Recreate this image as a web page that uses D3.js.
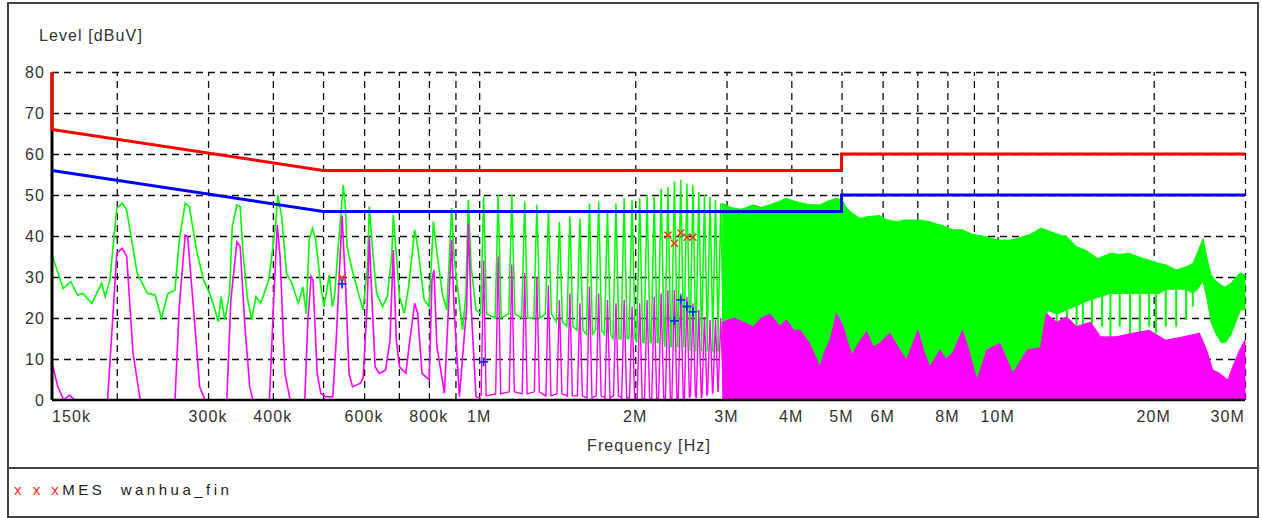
<!DOCTYPE html>
<html>
<head>
<meta charset="utf-8">
<script src="https://cdn.jsdelivr.net/npm/d3@7"></script>
<style>
  body { margin: 0; background: #fff; }
  text { font-family: 'Liberation Sans', Arial, sans-serif; }
</style>
</head>
<body>
<script>
// peak scan (green), 150 kHz .. 1 MHz, [kHz, dBuV]
const peakLow = [[150,35.4],[157.6,27.2],[163,28.9],[168,25.6],[172,26],[179,23.6],[187,28.5],[190,25.2],[194,29.3],[200,46.8],[205,48],[209,46.3],[219,30.9],[229,26],[237,25.6],[244,19.9],[251,26],[259,26.8],[264,39],[271,48],[276,47.2],[285,36.6],[294,29.3],[302,26],[308,22.8],[314,19.1],[318,25.2],[323,19.5],[330,26],[334,42.3],[341,47.6],[346,47.2],[350,36.6],[357,25.2],[364,19.5],[371,25.2],[379,23.6],[393,29.3],[405,43],[409,50],[416,44.7],[425,30.9],[435,28.5],[448,23.6],[457,27.6],[464,21.1],[470,39],[477,41.9],[484,39],[495,27.6],[502,22.8],[514,30.5],[521,22.8],[526,25.2],[536,39],[547,52.4],[552,47.2],[556,37.4],[571,30.9],[585,26],[597,22],[609,32.5],[614,47.2],[623,36.6],[634,26],[651,22.8],[665,25.2],[678,35],[683,45.1],[691,36.6],[702,25.2],[717,21.1],[731,27.6],[751,41.5],[761,37.4],[783,24.4],[801,22.8],[816,43.5],[829,35.8],[849,26],[866,22],[885,46.8],[894,35],[929,17.1],[943,26],[953,48.8],[965,32.5],[986,22],[1007,21.1]]

// average scan (magenta), 150 kHz .. 1 MHz, [kHz, dBuV]
const avgLow = [[150,9],[154,3.2],[158,0],[162,1.2],[166,0],[192,0],[196,17.9],[200,35.8],[205,37],[209,35],[215,11.4],[222,0],[259,0],[264,22.8],[271,40.2],[274,39.8],[281,22.8],[289,3.2],[296,0],[326,0],[332,24.4],[341,38.6],[346,37.4],[353,18.7],[361,3.2],[366,0],[394,0],[401,22.8],[408,42.7],[413,35],[422,6.5],[432,0],[461,0],[467,18.7],[474,30.1],[478,29.3],[487,6.5],[495,1.6],[505,0.8],[522,0.8],[530,14.6],[544,45],[553,26.8],[561,6.5],[570,3.2],[590,4.1],[597,5.3],[608,22.8],[614,39.8],[620,26.8],[630,8.1],[642,6.5],[660,7.3],[673,14.6],[683,36.6],[692,14.6],[702,8.1],[722,6.5],[735,14.6],[751,23.6],[761,21.1],[776,6.5],[801,4.9],[811,29.3],[818,31.7],[829,13],[857,1.6],[879,30.9],[885,39],[894,22.8],[916,0.8],[946,22.8],[953,43],[965,22.8],[986,0.8],[1005,0.5]]

// harmonic lines 1 .. 3 MHz
const harmKHz = [1020,1088,1156,1224,1292,1360,1428,1496,1564,1632,1700,1768,1836,1904,1972,2040,2108,2176,2244,2312,2380,2448,2516,2584,2652,2720,2788,2856,2924]
const harmPeak = [49.6,50,50,48.4,47.6,45.9,43.5,44.7,44.3,48,48.4,46.3,48,49.2,48.8,49.2,50,49.6,51.6,52,53.3,53.7,52.8,52.4,50.8,50,49.6,48.8,48]
const harmPeakFloor = [21,20,21,20,20,21,19,18,17,16,17,16,15,15,15,14,14,14,14,13,13,13,13,12,12,12,12,12,12]
const harmAvg = [34,35,33,31,30,28,24.4,26,23.6,27.6,26,24.4,23.6,24.4,22.8,23.6,24.4,25.2,26,26.8,26.8,26,25.2,23.6,22,20.3,19.5,19.5,20]
const harmAvgFloor = [1,1.5,2,1.5,2,1,1.5,1,1,0.5,1,0.5,1,0.5,0.5,0,0.5,0,0.5,0,0.5,0,0.5,1,0.5,1,1.5,2,2.5]

// dense part of the peak scan: [MHz, upper, lower]
const peakDense = [[2.95,48,12],[3.05,47,13],[3.2,46.5,14],[3.38,47.6,14],[3.5,47,15],[3.64,47.6,15],[3.8,48.5,15],[3.91,49.2,16],[4.05,48.5,14],[4.21,48,13],[4.35,47.6,11],[4.54,47.6,7],[4.7,48.5,12],[4.89,49.2,18],[5.0,48.8,16],[5.12,46.8,11],[5.25,45.5,9],[5.43,44.3,12],[5.6,44.7,14],[5.92,45,11],[6.1,44,12],[6.38,43.5,10],[6.6,43.9,9],[6.77,43.9,9],[7.07,43.9,12],[7.4,43.5,7],[7.6,43,9],[7.86,42.5,9],[8.2,41.5,9],[8.56,41.5,12],[8.9,40.5,8],[9.12,40.2,4.9],[9.5,39.8,9],[10.0,39,10],[10.57,39,6],[11.0,39.5,8],[11.6,40.5,10],[12.1,41.9,11],[12.4,41.5,22],[13.0,40.5,21],[13.6,39.8,22],[14.2,37.4,23],[14.8,36.5,24],[15.6,34.5,25],[16.5,35.8,26],[17.2,35.5,26],[17.9,35.8,26],[18.8,34.8,26],[19.6,34.1,26],[20.5,33.3,26],[21.1,33,27],[22.1,31.7,27],[23.1,32.5,27],[23.8,33.3,26],[24.3,36,27],[24.9,39.4,29],[25.4,34,24],[25.8,30.5,19],[26.4,29,16],[27.0,28,14],[27.5,27.6,14],[28.2,28.5,16],[28.8,30,19],[29.4,31,22],[30,30.5,22]]

// downward spikes of the peak scan above 12 MHz: [MHz, bottom, top]
const peakDips = [[12.43,14.6,24],[13.0,14.6,24],[13.6,19.5,25],[14.2,17.9,25],[14.6,13,25],[15.2,16.3,26],[15.9,17.9,26],[16.5,14.6,26],[17.2,17.9,26],[18.0,13,26],[18.8,14.6,26],[19.6,17.9,26],[20.2,16.3,26],[21.1,17.9,27],[22.1,17.9,27],[23.1,19.5,27],[23.8,22.8,27]]

// dense part of the average scan: [MHz, upper]
const avgDense = [[2.95,19],[3.1,20],[3.38,17.9],[3.5,20],[3.64,21],[3.8,18],[3.91,19.5],[4.05,17],[4.16,17],[4.34,13.8],[4.54,8.1],[4.64,12],[4.75,14.6],[4.89,21.1],[5.03,18],[5.23,11],[5.4,14],[5.59,16.7],[5.75,13],[5.92,13.8],[6.19,16.3],[6.48,12.2],[6.67,9.8],[7.02,17],[7.2,12],[7.4,8.1],[7.74,12.2],[7.95,10],[8.19,11.5],[8.56,17],[8.8,12],[9.12,4.9],[9.53,12.2],[10.1,13.8],[10.7,6.5],[11.4,12.2],[12.1,12.8],[12.4,21.1],[13.0,19],[13.6,20.3],[14.2,17.9],[15.1,19],[15.8,15.4],[16.9,15.4],[18.2,16.3],[19.6,17],[21.1,14.6],[22.8,15.4],[24.5,16.3],[25.3,12.2],[26.0,7.3],[26.8,6.5],[27.8,4.9],[28.4,8.1],[29.3,12.2],[30,14.6]]

// limits [kHz, dBuV]
const qpLimit = [[150,80],[150,66],[500,56],[5000,56],[5000,60],[30000,60]]
const avLimit = [[150,56],[500,46],[5000,46],[5000,50],[30000,50]]

// final measurements [kHz, dBuV]
const qpMarks = [[544,29.8],[2312,40.2],[2380,38.2],[2448,40.8],[2516,39.7],[2584,39.7]]
const avMarks = [[544,28.3],[1020,9.3],[2380,19.3],[2448,24.4],[2516,22.8],[2584,21.5]]

const gridFreqs = [200e3,300e3,400e3,500e3,600e3,700e3,800e3,900e3,1e6,2e6,3e6,4e6,5e6,6e6,7e6,8e6,9e6,10e6,20e6,30e6]
const tickFreqs = [150e3,300e3,400e3,600e3,800e3,1e6,2e6,3e6,4e6,5e6,6e6,8e6,10e6,20e6,30e6]
const tickLabels = ['150k','300k','400k','600k','800k','1M','2M','3M','4M','5M','6M','8M','10M','20M','30M']
const levelTicks = [0,10,20,30,40,50,60,70,80]

const width = 1262, height = 518
const plotLeft = 52, plotRight = 1245, plotTop = 72, plotBottom = 400

const x = d3.scaleLog().domain([150e3, 30e6]).range([plotLeft, plotRight])
const y = d3.scaleLinear().domain([0, 80]).range([plotBottom, plotTop])

const svg = d3.select('body').append('svg')
  .attr('width', width)
  .attr('height', height)

// frame
svg.append('rect')
  .attr('x', 8).attr('y', 3)
  .attr('width', 1250).attr('height', 514)
  .attr('fill', 'none').attr('stroke', '#444').attr('stroke-width', 2)
svg.append('line')
  .attr('x1', 8).attr('x2', 1258).attr('y1', 468).attr('y2', 468)
  .attr('stroke', '#444').attr('stroke-width', 2)

// grid
const gridStyle = g => g.call(s => s.select('.domain').remove())
  .selectAll('line')
  .attr('stroke', '#111')
  .attr('stroke-width', 1.3)
  .attr('stroke-dasharray', '7,5')

svg.append('g')
  .attr('transform', `translate(0,${plotBottom})`)
  .call(d3.axisBottom(x).tickValues(gridFreqs).tickSize(-(plotBottom - plotTop)).tickFormat(''))
  .call(gridStyle)

svg.append('g')
  .attr('transform', `translate(${plotLeft},0)`)
  .call(d3.axisLeft(y).tickValues(levelTicks.slice(1)).tickSize(-(plotRight - plotLeft)).tickFormat(''))
  .call(gridStyle)

const line = d3.line().x(d => x(d[0] * 1e3)).y(d => y(d[1]))
const pxLine = d3.line().x(d => d[0]).y(d => y(d[1]))

// each harmonic drawn as a narrow peak rising from its floor
function spikes(freqs, peaks, floors, w) {
  const pts = []
  freqs.forEach((f, i) => {
    const px = x(f * 1e3)
    pts.push([px - w, floors[i]], [px, peaks[i]], [px + w, floors[i]])
  })
  return pxLine(pts)
}

const green = '#00ff00', magenta = '#ff00ff'

// peak scan
const pk = svg.append('g')
pk.append('path').attr('d', line(peakLow))
  .attr('fill', 'none').attr('stroke', green).attr('stroke-width', 1.6)
pk.append('path').attr('d', spikes(harmKHz, harmPeak, harmPeakFloor, 3))
  .attr('fill', 'none').attr('stroke', green).attr('stroke-width', 1.5)
pk.append('path').datum(peakDense)
  .attr('d', d3.area().x(d => x(d[0] * 1e6)).y0(d => y(d[2])).y1(d => y(d[1])))
  .attr('fill', green).attr('stroke', green).attr('stroke-width', 1)
pk.selectAll('line').data(peakDips).join('line')
  .attr('x1', d => x(d[0] * 1e6)).attr('x2', d => x(d[0] * 1e6))
  .attr('y1', d => y(d[1])).attr('y2', d => y(d[2]))
  .attr('stroke', green).attr('stroke-width', 2)

// average scan
const av = svg.append('g')
av.append('path').attr('d', line(avgLow))
  .attr('fill', 'none').attr('stroke', magenta).attr('stroke-width', 1.6)
av.append('path').attr('d', spikes(harmKHz, harmAvg, harmAvgFloor, 2.5))
  .attr('fill', 'none').attr('stroke', magenta).attr('stroke-width', 1.4)
av.append('path').datum(avgDense)
  .attr('d', d3.area().x(d => x(d[0] * 1e6)).y0(y(0)).y1(d => y(d[1])))
  .attr('fill', magenta).attr('stroke', magenta).attr('stroke-width', 1)

// axes lines
svg.append('line')
  .attr('x1', plotLeft).attr('x2', plotLeft).attr('y1', plotTop).attr('y2', plotBottom)
  .attr('stroke', '#000').attr('stroke-width', 3)
svg.append('line')
  .attr('x1', plotLeft).attr('x2', plotRight).attr('y1', plotBottom).attr('y2', plotBottom)
  .attr('stroke', '#000').attr('stroke-width', 2.5)

// limits
svg.append('path').attr('d', line(qpLimit))
  .attr('fill', 'none').attr('stroke', '#ff0000').attr('stroke-width', 3)
svg.append('path').attr('d', line(avLimit))
  .attr('fill', 'none').attr('stroke', '#0000ff').attr('stroke-width', 3)

// markers
svg.append('g').selectAll('path').data(qpMarks).join('path')
  .attr('transform', d => `translate(${x(d[0] * 1e3)},${y(d[1])})`)
  .attr('d', 'M-3.5,-3.5L3.5,3.5M-3.5,3.5L3.5,-3.5')
  .attr('stroke', '#f0401c').attr('stroke-width', 1.6)
svg.append('g').selectAll('path').data(avMarks).join('path')
  .attr('transform', d => `translate(${x(d[0] * 1e3)},${y(d[1])})`)
  .attr('d', 'M-4.5,0L4.5,0M0,-4.5L0,4.5')
  .attr('stroke', '#1030f0').attr('stroke-width', 1.8)

// labels
const txt = svg.append('g')
  .attr('fill', '#333')
  .attr('font-size', 16)
  .attr('letter-spacing', 1.1)

txt.selectAll('.yl').data(levelTicks).join('text')
  .attr('x', 45).attr('y', d => y(d)).attr('dy', '0.35em')
  .attr('text-anchor', 'end')
  .text(d => d)

txt.selectAll('.xl').data(tickFreqs).join('text')
  .attr('x', d => x(d)).attr('y', 422)
  .attr('text-anchor', (d, i) => i === 0 ? 'start' : i === tickFreqs.length - 1 ? 'end' : 'middle')
  .text((d, i) => tickLabels[i])

txt.append('text').attr('x', 39).attr('y', 41).text('Level [dBuV]')
txt.append('text').attr('x', 649).attr('y', 451).attr('text-anchor', 'middle').text('Frequency [Hz]')

// legend
const leg = svg.append('text')
  .attr('x', 14).attr('y', 495)
  .attr('font-family', "'Liberation Mono', monospace")
  .attr('font-size', 15)
  .attr('letter-spacing', 3.5)
  .attr('fill', '#222')
  .style('white-space', 'pre')
leg.append('tspan').attr('fill', '#f03020').text('x x x')
leg.append('tspan').text('MES  wanhua_fin')
</script>
</body>
</html>
